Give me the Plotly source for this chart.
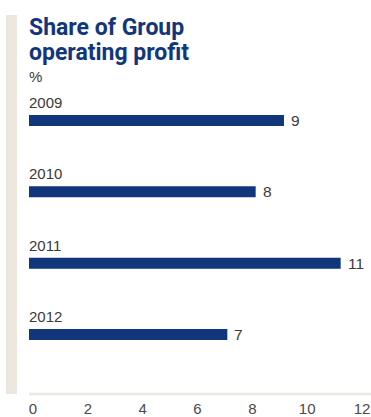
import plotly.graph_objects as go

# Share of Group operating profit, % by year
years = ["2009", "2010", "2011", "2012"]
shares = [9, 8, 11, 7]
tick_values = [0, 2, 4, 6, 8, 10, 12]
tick_labels = ["0", "2", "4", "6", "8", "10", "12"]

NAVY = "#12367b"
BEIGE = "#ece8df"
LABEL_GREY = "#3a3a3a"
LABEL_FONT = "Liberation Sans, Arial, sans-serif"

positions = list(range(len(years)))

fig = go.Figure()
fig.add_trace(go.Bar(
    x=shares,
    y=positions,
    orientation="h",
    width=0.154,
    marker=dict(color=NAVY, line=dict(width=0)),
    hoverinfo="skip",
))
# carrier for the scale axis printed under the chart
fig.add_trace(go.Scatter(
    x=shares, y=positions, xaxis="x2", yaxis="y", mode="none", hoverinfo="skip",
))

annotations = []
# year label above each bar, value label to the right of each bar
for pos, year, val in zip(positions, years, shares):
    annotations.append(dict(
        x=0, y=pos, xref="x", yref="y", text=year, showarrow=False,
        xanchor="left", yanchor="middle", yshift=18, xshift=-2,
        font=dict(family=LABEL_FONT, size=15, color=LABEL_GREY),
    ))
    annotations.append(dict(
        x=val, y=pos, xref="x", yref="y", text=str(val), showarrow=False,
        xanchor="left", yanchor="middle", xshift=5,
        font=dict(family=LABEL_FONT, size=15.5, color=LABEL_GREY),
    ))

TITLE_FONT = dict(family="Roboto, Open Sans, sans-serif", size=23, color=NAVY, weight="bold")
annotations.append(dict(
    x=0, y=1, xref="paper", yref="paper", text="Share of Group", showarrow=False,
    xanchor="left", yanchor="top", xshift=-2, yshift=3, font=TITLE_FONT,
))
annotations.append(dict(
    x=0, y=1, xref="paper", yref="paper", text="operating profit", showarrow=False,
    xanchor="left", yanchor="top", xshift=-2, yshift=-22, font=TITLE_FONT,
))
annotations.append(dict(
    x=0, y=1, xref="paper", yref="paper", text="%", showarrow=False,
    xanchor="left", yanchor="top", xshift=-2, yshift=-51,
    font=dict(family=LABEL_FONT, size=15, color=LABEL_GREY),
))

shapes = [
    # vertical beige band at the left edge
    dict(type="rect", xref="paper", yref="paper", xsizemode="pixel", xanchor=0,
         x0=-23, x1=-12, y0=0, y1=1, fillcolor=BEIGE, line=dict(width=0), layer="below"),
    # baseline under the bars, running to the right edge
    dict(type="line", xref="paper", yref="paper", x0=0, x1=1.01, y0=0, y1=0,
         line=dict(color=BEIGE, width=2.5), layer="below"),
]

fig.update_layout(
    width=371, height=417,
    margin=dict(l=29, r=2, t=15, b=23, autoexpand=False),
    paper_bgcolor="white", plot_bgcolor="rgba(0,0,0,0)",
    showlegend=False,
    annotations=annotations,
    shapes=shapes,
    xaxis=dict(
        range=[0, 12], domain=[0, 1], showticklabels=False, automargin=False,
        showgrid=False, zeroline=False, showline=False, ticks="",
        fixedrange=True,
    ),
    xaxis2=dict(
        range=[0, 12], domain=[0.0118, 0.9794], side="bottom",
        anchor="y", tickvals=tick_values, ticktext=tick_labels, automargin=False,
        showgrid=False, zeroline=False, showline=False, ticks="",
        ticklabeloverflow="allow", ticklabelstandoff=4,
        tickfont=dict(family=LABEL_FONT, size=15, color="#4a4a4a"),
        fixedrange=True,
    ),
    yaxis=dict(
        range=[3.834, -1.479], showticklabels=False, showgrid=False, automargin=False,
        zeroline=False, showline=False, ticks="", fixedrange=True,
    ),
)

fig.write_html("out.html")
